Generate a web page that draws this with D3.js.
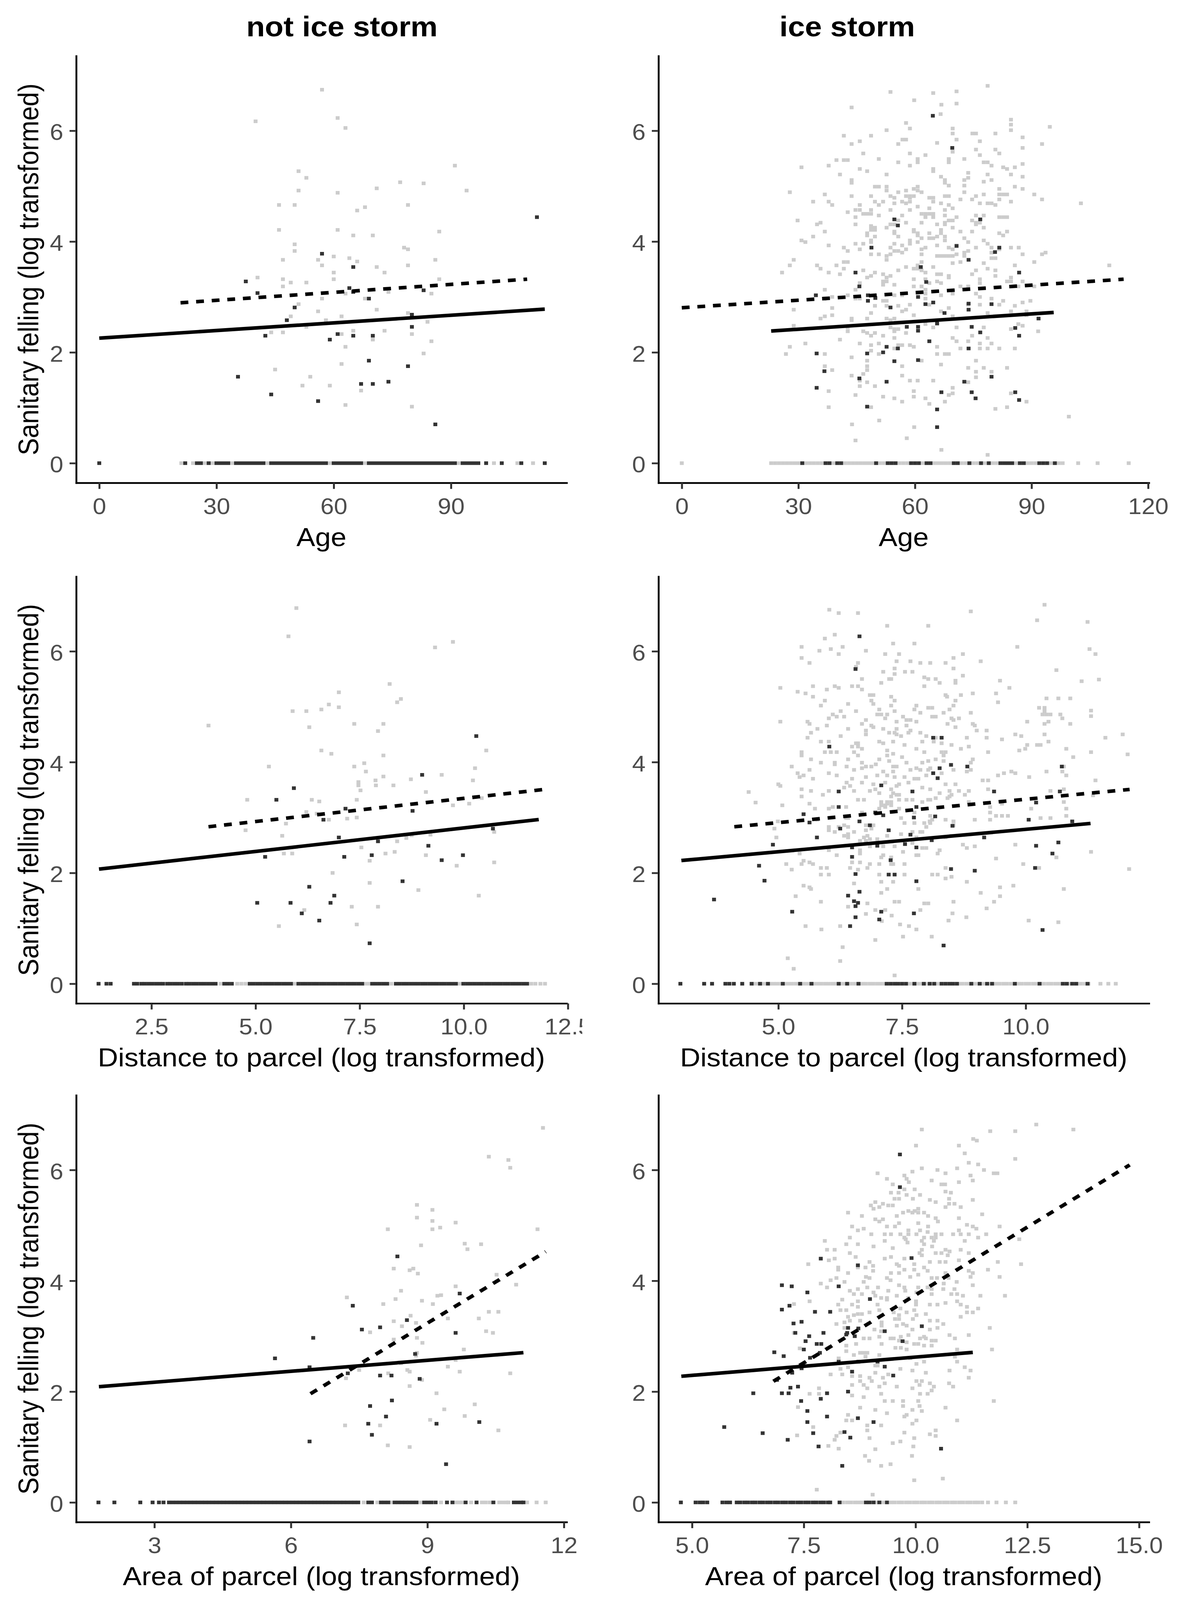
<!DOCTYPE html>
<html>
<head>
<meta charset="utf-8">
<script src="https://cdn.jsdelivr.net/npm/d3@7"></script>
<style>
  html, body { margin: 0; padding: 0; background: #fff; overflow: hidden; }
  svg { display: block; }
</style>
</head>
<body>
<script>
// column titles and axis titles
var colTitles = ['not ice storm', 'ice storm'];
var xTitles = ['Age', 'Distance to parcel (log transformed)', 'Area of parcel (log transformed)'];
var yTitle = 'Sanitary felling (log transformed)';

// tick values
var yTicks = [0, 2, 4, 6];
var ageTicksNo = [0, 30, 60, 90];
var ageTicksIce = [0, 30, 60, 90, 120];
var distTicksNo = [2.5, 5, 7.5, 10, 12.5];
var distTicksIce = [5, 7.5, 10];
var areaTicksNo = [3, 6, 9, 12];
var areaTicksIce = [5, 7.5, 10, 12.5, 15];

// ---- Age, not ice storm ----
var ageNoGrey = [[40,6.17],[57,6.74],[61,6.23],[63,6.05],[91,5.37],[51,5.27],[53,5.15],[77,5.07],[83,5.05],[94,4.92],[51,4.92],[61,4.88],[71,4.96],[46,4.66],[50,4.66],[68,4.62],[66,4.56],[79,4.66],[46,4.21],[61,4.21],[65,4.11],[70,4.11],[87,4.18],[50,3.95],[50,3.83],[78,3.89],[79,3.86],[47,3.67],[56,3.67],[60,3.73],[64,3.70],[66,3.64],[57,3.57],[71,3.54],[79,3.57],[86,3.67],[60,3.44],[73,3.44],[40.5,3.35],[47,3.32],[49,3.26],[53,3.26],[47,3.19],[60,3.32],[87,3.32],[74,3.09],[63,3.06],[85,3.06],[57,2.97],[68,2.97],[51,2.87],[56,2.74],[71,2.77],[79,2.71],[49,2.65],[62,2.65],[58,2.58],[84,2.55],[53,2.46],[44,2.36],[47,2.36],[62,2.33],[65,2.39],[73,2.39],[80,2.33],[70,2.23],[85,2.20],[63,2.10],[83,1.98],[62,1.79],[45,1.69],[54,1.56],[52,1.40],[59,1.40],[67,1.31],[63,1.05],[80,1.02]];
var ageNoDark = [[112,4.44],[57,3.78],[65,3.54],[37.5,3.28],[40.5,3.07],[64,3.16],[65,3.09],[83,3.12],[69,2.97],[50,2.81],[80,2.68],[48,2.58],[80,2.46],[61,2.33],[42.5,2.30],[65,2.30],[70,2.30],[59,2.23],[69,1.85],[79,1.75],[35.5,1.56],[67,1.43],[70,1.43],[74,1.47],[44,1.24],[56,1.12],[86,0.70]];
var ageNoZeroGrey = [21, 24, 27, 29, 34, 43, 59, 68, 92, 101, 107, 111];
var ageNoZeroDark = [0, 22, 25, 26, 28, 30, 31, 32, 33, 35, 36, 37, 38, 39, 40, 41, 42, 44, 45, 46, 47, 48, 49, 50, 51, 52, 53, 54, 55, 56, 57, 58, 60, 61, 62, 63, 64, 65, 66, 67, 69, 70, 71, 72, 73, 74, 75, 76, 77, 78, 79, 80, 81, 82, 83, 84, 85, 86, 87, 88, 89, 90, 91, 93, 94, 95, 96, 97, 99, 103, 108, 114];
var ageNoSolid = [[0, 2.256], [114, 2.78]];
var ageNoDashed = [[20.8, 2.895], [109.5, 3.32]];

// ---- Age, ice storm ----
var ageIceGrey = [[43.7,6.42],[66.6,6.30],[84.7,6.20],[57.7,6.14],[84.7,6.11],[94.7,6.07],[58.7,6.04],[69.7,6.04],[52.7,6.01],[84.7,6.01],[69.7,5.95],[74.8,5.95],[75.7,5.95],[80.7,5.95],[41.7,5.91],[48.7,5.91],[87.7,5.88],[56.8,5.84],[57.7,5.84],[70.7,5.84],[45.8,5.81],[76.7,5.81],[65.7,5.78],[43.7,5.76],[55.7,5.76],[92.7,5.76],[87.7,5.69],[75.7,5.66],[80.7,5.66],[69.7,5.62],[46.7,5.59],[58.7,5.59],[81.7,5.59],[62.7,5.56],[76.7,5.56],[50.7,5.49],[60.7,5.49],[68.7,5.49],[72.7,5.49],[39.8,5.47],[41.7,5.47],[42.7,5.47],[55.7,5.43],[60.7,5.43],[68.7,5.43],[77.7,5.43],[78.7,5.43],[87.7,5.40],[37.8,5.37],[58.7,5.37],[79.7,5.37],[30.8,5.34],[82.7,5.34],[85.7,5.34],[45.8,5.31],[64.7,5.31],[83.7,5.31],[47.7,5.27],[64.7,5.27],[73.7,5.24],[40.7,5.21],[52.7,5.21],[78.7,5.21],[84.7,5.21],[66.7,5.17],[87.7,5.17],[73.7,5.15],[43.7,5.11],[67.7,5.11],[72.7,5.11],[79.7,5.11],[77.7,5.08],[43.7,5.06],[67.7,5.06],[68.7,5.01],[72.7,5.01],[49.7,4.99],[50.7,4.99],[52.7,4.99],[60.7,4.99],[85.7,4.99],[59.7,4.95],[81.7,4.95],[87.7,4.95],[52.7,4.92],[57.7,4.92],[60.7,4.92],[27.8,4.89],[55.7,4.89],[61.7,4.89],[72.7,4.89],[36.8,4.85],[77.7,4.85],[81.7,4.85],[82.7,4.85],[83.7,4.85],[90.7,4.85],
  [43.7,4.82],[48.7,4.82],[53.7,4.82],[57.7,4.82],[58.7,4.82],[59.7,4.82],[67.7,4.82],[68.7,4.82],[75.7,4.82],[54.7,4.79],[58.7,4.79],[63.7,4.79],[64.7,4.79],[71.7,4.76],[74.7,4.76],[81.7,4.76],[92.7,4.76],[33.8,4.72],[37.8,4.72],[49.7,4.72],[51.8,4.72],[56.7,4.72],[58.7,4.72],[64.7,4.72],[84.7,4.72],[54.7,4.69],[57.7,4.69],[66.7,4.69],[76.7,4.69],[78.7,4.69],[79.7,4.69],[102.7,4.69],[38.7,4.66],[45.8,4.66],[50.7,4.66],[68.7,4.66],[80.7,4.66],[60.7,4.63],[63.7,4.60],[69.7,4.60],[44.7,4.57],[45.8,4.57],[48.7,4.57],[53.7,4.57],[58.7,4.57],[67.7,4.57],[42.7,4.53],[46.7,4.50],[47.7,4.50],[48.7,4.50],[61.7,4.50],[62.7,4.50],[63.7,4.50],[64.7,4.50],[50.7,4.47],[56.7,4.47],[67.7,4.47],[75.7,4.47],[77.7,4.47],[44.7,4.44],[62.7,4.44],[64.7,4.44],[70.7,4.44],[81.7,4.44],[82.7,4.44],[83.7,4.44],
  [29.8,4.38],[55.7,4.38],[68.7,4.38],[69.7,4.38],[74.7,4.38],[35.7,4.34],[57.7,4.34],[61.7,4.34],[67.7,4.34],[75.7,4.34],[76.7,4.34],[34.8,4.31],[44.7,4.31],[53.7,4.31],[54.7,4.31],[65.7,4.31],[67.7,4.31],[75.7,4.31],[48.7,4.28],[48.7,4.25],[49.7,4.25],[52.7,4.25],[69.7,4.25],[77.7,4.25],[48.7,4.21],[49.7,4.21],[59.7,4.21],[66.7,4.21],[36.8,4.18],[54.7,4.18],[59.7,4.18],[71.7,4.18],[74.7,4.18],[83.7,4.18],[47.7,4.15],[54.7,4.15],[60.7,4.15],[63.7,4.15],[66.7,4.15],[81.7,4.15],[47.7,4.11],[60.7,4.11],[82.7,4.11],[33.8,4.09],[49.7,4.09],[55.7,4.09],[65.7,4.09],[67.7,4.09],[61.7,4.06],[63.7,4.06],[64.7,4.06],[72.7,4.06],[30.8,4.02],[48.7,4.02],[58.7,4.02],[67.7,4.02],[77.7,4.02],[31.8,3.99],[48.7,3.99],[60.7,3.99],[73.7,3.99],
  [44.7,3.96],[46.7,3.96],[54.7,3.96],[58.7,3.96],[78.7,3.96],[37.8,3.93],[56.7,3.93],[65.7,3.93],[70.7,3.93],[41.7,3.89],[53.7,3.89],[62.7,3.89],[68.7,3.89],[75.7,3.89],[79.7,3.89],[84.7,3.89],[86.7,3.89],[45.8,3.86],[57.7,3.86],[61.7,3.86],[69.7,3.86],[81.7,3.86],[42.7,3.83],[54.7,3.83],[55.7,3.83],[73.7,3.83],[56.7,3.80],[72.7,3.80],[79.7,3.80],[93.6,3.80],[48.7,3.77],[50.7,3.77],[53.7,3.77],[61.7,3.77],[70.7,3.77],[87.7,3.77],[92.7,3.77],[52.7,3.74],[65.7,3.74],[66.7,3.74],[67.7,3.74],[68.7,3.74],[69.7,3.74],[72.7,3.74],[79.7,3.70],[80.7,3.70],[28.8,3.67],[52.7,3.67],[41.7,3.63],[42.7,3.63],[61.7,3.63],[71.7,3.63],[90.7,3.63],[69.7,3.61],[77.7,3.61],[27.8,3.57],[34.8,3.57],[39.8,3.57],[60.7,3.57],[85.7,3.57],[57.7,3.54],[64.7,3.54],[35.7,3.51],[41.7,3.51],[59.7,3.51],[60.7,3.51],[78.7,3.51],[46.7,3.48],[55.7,3.48],[61.7,3.48],[75.7,3.48],[80.7,3.48],
  [25.8,3.44],[37.8,3.44],[49.7,3.44],[62.7,3.44],[40.7,3.41],[51.8,3.41],[65.7,3.41],[66.7,3.41],[74.7,3.41],[48.7,3.38],[53.7,3.38],[68.7,3.38],[80.7,3.38],[47.7,3.35],[52.7,3.35],[68.7,3.35],[84.7,3.35],[59.7,3.32],[62.7,3.32],[76.7,3.32],[51.8,3.28],[52.7,3.28],[65.7,3.28],[83.7,3.28],[84.7,3.28],[87.7,3.28],[45.8,3.25],[63.7,3.25],[66.7,3.25],[76.7,3.25],[51.8,3.22],[54.7,3.22],[59.7,3.19],[61.7,3.19],[71.7,3.19],[73.7,3.19],[86.6,3.19],[90.7,3.19],[36.8,3.13],[44.7,3.13],[62.7,3.13],[62.7,3.06],[69.7,3.06],[75.7,3.06],[42.7,3.03],[54.7,3.03],[56.7,3.03],[66.7,3.03],[38.7,3.0],[76.7,3.0],[44.7,2.97],[45.8,2.97],[62.7,2.97],[79.7,2.97],[51.8,2.93],[52.7,2.93],[82.7,2.93],[89.7,2.93],[87.7,2.90],
  [58.7,2.86],[63.7,2.86],[73.7,2.86],[76.7,2.86],[81.7,2.86],[49.7,2.84],[52.7,2.84],[55.7,2.84],[85.7,2.84],[38.7,2.80],[68.7,2.80],[28.8,2.77],[57.7,2.77],[56.7,2.74],[66.7,2.74],[84.7,2.74],[88.7,2.74],[48.7,2.71],[78.7,2.71],[38.7,2.67],[59.7,2.67],[88.7,2.67],[36.8,2.65],[69.7,2.65],[35.7,2.61],[43.7,2.61],[47.7,2.61],[52.7,2.61],[54.7,2.61],[43.7,2.58],[53.7,2.58],[62.7,2.51],[86.6,2.51],[28.8,2.48],[87.7,2.48],[42.7,2.45],[53.7,2.45],[64.7,2.45],[70.7,2.45],[77.7,2.45],[54.7,2.42],[55.7,2.42],[84.7,2.42],[42.7,2.38],[46.7,2.38],[54.7,2.38],[91.7,2.38],[47.7,2.35],[49.7,2.35],[57.7,2.35],[48.7,2.30],[51.8,2.30],[74.7,2.30],[54.7,2.26],[69.7,2.26],[78.7,2.26],[40.7,2.23],[70.7,2.20],[73.7,2.20],[31.8,2.16],[45.8,2.16],[50.7,2.16],[76.7,2.16],[79.7,2.16],[48.7,2.13],[55.7,2.13],[56.7,2.13],[58.7,2.13],[27.8,2.10],[59.7,2.10],[65.7,2.10],[54.7,2.07],[71.7,2.07],[76.7,2.07],[78.7,2.07],[81.7,2.07],[85.7,2.07],[48.7,2.03],
  [26.8,1.97],[36.8,1.97],[50.7,1.97],[65.7,1.97],[67.7,1.97],[68.7,1.97],[43.7,1.91],[47.7,1.85],[61.7,1.85],[75.7,1.85],[66.7,1.78],[36.8,1.75],[47.7,1.75],[56.7,1.75],[73.7,1.72],[77.7,1.72],[83.7,1.72],[38.7,1.68],[47.7,1.68],[75.7,1.65],[79.7,1.65],[46.7,1.61],[43.7,1.58],[56.7,1.58],[75.7,1.55],[45.8,1.49],[58.7,1.49],[60.7,1.49],[64.7,1.49],[47.7,1.46],[73.7,1.46],[45.8,1.39],[49.7,1.39],[69.7,1.36],[37.8,1.30],[59.7,1.30],[69.7,1.26],[84.7,1.26],[44.7,1.23],[68.7,1.23],[51.8,1.20],[59.7,1.20],[54.7,1.17],[62.7,1.17],[56.7,1.11],[67.7,1.11],[88.7,1.11],[63.7,1.07],[37.8,1.01],[48.7,1.01],[83.7,1.01],[80.7,0.98],
  [78.7,6.81],[53.7,6.70],[64.7,6.68],[70.7,6.71],[70.7,6.49],[59.8,6.55],[66.8,6.47],[50.8,0.77],[99.6,0.84],[43.8,0.70],[59.8,0.65],[44.7,0.41],[57.9,0.45],[66.8,0.24],[78.7,0.15],[110,3.57]];
var ageIceDark = [[64.6,6.27],[69.6,5.69],[54.7,4.40],[55.6,4.29],[76.8,4.40],[48.8,3.89],[70.7,3.92],[80.6,3.81],[81.7,3.89],[61.5,3.54],[73.8,3.67],[44.7,3.44],[86.8,3.44],[45.7,3.19],[62.9,3.27],[34.5,3.03],[36.7,2.97],[47.9,3.03],[47.9,2.93],[49.8,2.98],[60.8,3.0],[73.8,2.88],[73.8,2.77],[79.7,2.87],[62.7,2.87],[64.7,2.90],[53.7,2.81],[67.6,2.71],[91.8,2.61],[57.9,2.46],[60.8,2.46],[60.8,2.39],[65.7,2.52],[74.6,2.46],[76.8,2.36],[85.8,2.44],[86.8,2.30],[63.7,2.20],[52.7,2.10],[51.8,2.0],[55.6,2.07],[73.8,2.07],[34.7,1.98],[47.7,1.98],[60.8,1.86],[54.7,1.84],[36.7,1.66],[79.7,1.56],[45.7,1.53],[52.7,1.47],[72.7,1.47],[34.7,1.36],[66.8,1.28],[74.6,1.28],[85.8,1.28],[75.6,1.17],[86.8,1.14],[47.7,1.02],[65.7,0.97],[65.7,0.65]];
var ageIceZeroGrey = [0, 23, 24, 25, 26, 27, 28, 29, 30, 31, 32, 33, 34, 35, 36, 37, 38, 39, 40, 41, 42, 43, 44, 45, 46, 47, 48, 49, 50, 51, 52, 53, 54, 55, 56, 57, 58, 59, 60, 61, 62, 63, 64, 65, 66, 67, 68, 69, 70, 71, 72, 73, 74, 75, 76, 77, 78, 79, 80, 81, 82, 83, 84, 85, 86, 87, 88, 89, 90, 91, 92, 93, 94, 95, 96, 97, 98, 102, 107, 115];
var ageIceZeroDark = [31, 37, 38, 40, 41, 50, 53, 54, 55, 59, 60, 61, 63, 64, 70, 71, 74, 77, 79, 82, 83, 84, 85, 87, 88, 92, 93, 94, 96];
var ageIceSolid = [[23, 2.385], [95.7, 2.72]];
var ageIceDashed = [[0, 2.805], [113.7, 3.32]];

// ---- Distance, not ice storm ----
var distNoGrey = [[5.98,6.78],[5.79,6.27],[9.74,6.17],[9.31,6.07],[3.87,4.66],[7.0,5.26],[8.22,5.41],[8.49,5.14],[8.40,5.08],[5.89,4.92],[6.22,4.92],[6.58,4.95],[6.76,5.04],[7.0,4.99],[6.29,4.63],[7.37,4.69],[8.07,4.69],[7.94,4.56],[6.58,4.21],[6.82,4.15],[8.07,4.12],[10.54,4.21],[5.32,3.92],[7.37,3.92],[7.61,3.98],[7.65,3.83],[7.47,3.64],[7.47,3.58],[7.52,3.49],[7.88,3.67],[7.89,3.58],[8.07,3.74],[8.31,3.58],[8.73,3.69],[9.47,3.77],[10.27,3.89],[10.22,3.67],[4.80,3.32],[6.35,3.32],[6.53,3.29],[7.43,3.32],[9.09,3.46],[9.74,3.22],[10.13,3.25],[10.43,3.35],[6.22,3.10],[6.47,3.07],[7.43,3.0],[6.76,2.96],[4.76,2.77],[5.73,2.89],[10.73,2.74],[5.64,2.67],[9.20,2.69],[8.62,2.63],[8.40,2.57],[7.54,2.46],[5.68,2.35],[5.88,2.35],[8.12,2.35],[8.34,2.38],[9.09,2.32],[7.74,2.22],[9.83,2.13],[10.73,2.19],[6.85,2.0],[7.74,1.82],[8.91,1.69],[10.36,1.59],[6.17,1.33],[7.31,1.39],[7.94,1.39],[5.56,1.04],[7.43,1.07],[8.75,2.68],[7.2,2.98]];
var distNoDark = [[10.30,4.47],[9.0,3.77],[5.92,3.53],[5.50,3.32],[7.16,3.16],[8.77,3.12],[6.63,2.96],[7.0,2.64],[7.94,2.57],[9.15,2.49],[5.23,2.29],[7.13,2.29],[7.79,2.32],[9.47,2.23],[9.98,2.32],[8.53,1.85],[6.29,1.75],[6.89,1.59],[5.04,1.46],[5.84,1.46],[6.80,1.46],[6.11,1.27],[6.53,1.14],[7.74,0.73],[10.70,2.80]];
var distNoZeroGrey = [4.16, 4.56, 4.66, 4.76, 5.94, 7.65, 7.71, 8.26, 9.9, 11.62, 11.72, 11.84, 11.95];
var distNoZeroDark = [1.23, 1.42, 1.52, 2.08, 2.16, 2.26, 2.34, 2.43, 2.52, 2.61, 2.7, 2.78, 2.88, 2.96, 3.05, 3.14, 3.23, 3.33, 3.41, 3.5, 3.59, 3.68, 3.77, 3.86, 3.95, 4.04, 4.25, 4.34, 4.43, 4.86, 4.95, 5.04, 5.13, 5.22, 5.31, 5.4, 5.49, 5.58, 5.67, 5.76, 5.85, 6.03, 6.12, 6.21, 6.3, 6.39, 6.48, 6.57, 6.66, 6.75, 6.84, 6.93, 7.02, 7.11, 7.2, 7.29, 7.38, 7.47, 7.56, 7.8, 7.89, 7.98, 8.07, 8.16, 8.37, 8.46, 8.55, 8.64, 8.73, 8.82, 8.91, 9.0, 9.09, 9.18, 9.27, 9.36, 9.45, 9.54, 9.63, 9.72, 9.81, 9.99, 10.08, 10.17, 10.26, 10.35, 10.44, 10.53, 10.62, 10.71, 10.8, 10.89, 10.98, 11.07, 11.16, 11.25, 11.34, 11.43, 11.52];
var distNoSolid = [[1.24, 2.069], [11.8, 2.964]];
var distNoDashed = [[3.87, 2.833], [11.93, 3.507]];

// ---- Distance, ice storm ----
var distIceGrey = [[7.20,6.46],[8.03,6.46],[6.14,6.30],[5.94,6.23],[7.32,6.14],[7.75,6.14],[5.47,6.08],[6.30,6.08],[9.83,6.08],[6.06,6.04],[5.83,6.01],[6.77,6.01],[6.22,5.95],[7.16,5.95],[7.44,5.95],[8.73,5.95],[5.47,5.88],[8.54,5.88],[7.39,5.82],[7.67,5.82],[9.09,5.82],[5.63,5.79],[6.61,5.79],[7.87,5.79],[8.07,5.79],[8.38,5.79],[6.57,5.72],[7.35,5.69],[8.54,5.69],[10.62,5.66],[7.12,5.63],[7.56,5.63],[7.71,5.63],[7.35,5.59],[8.73,5.56],[7.95,5.53],[6.69,5.50],[7.24,5.50],[7.28,5.50],[8.03,5.50],[8.18,5.50],[8.58,5.47],[9.48,5.47],[7.08,5.43],[8.26,5.43],[8.58,5.43],[5.70,5.37],[6.14,5.37],[6.49,5.37],[6.61,5.37],[7.95,5.37],[5.04,5.34],[6.22,5.34],[9.67,5.34],[5.98,5.31],[6.69,5.31],[5.39,5.27],[5.55,5.24],[8.93,5.24],[9.40,5.24],[6.85,5.21],[6.92,5.21],[8.38,5.21],[8.69,5.21],[5.70,5.18],[7.28,5.18],[8.41,5.18],[10.42,5.15],[10.66,5.15],[10.90,5.15],[5.94,5.11],[6.88,5.11],[7.35,5.11],[8.58,5.11],[9.44,5.08],[6.41,5.05],[6.92,5.05],[5.86,5.02],[7.28,5.02],[7.79,5.02],[8.54,5.02],
  [8.03,4.98],[8.11,4.98],[10.27,4.98],[10.38,4.98],[7.04,4.95],[7.75,4.95],[8.46,4.95],[6.26,4.92],[6.57,4.92],[7.35,4.92],[10.38,4.92],[7.87,4.89],[8.34,4.89],[8.89,4.89],[6.10,4.86],[7.00,4.86],[7.08,4.86],[7.20,4.86],[10.34,4.86],[10.42,4.86],[10.50,4.86],[10.70,4.86],[6.18,4.82],[6.33,4.82],[7.52,4.82],[8.11,4.82],[8.18,4.82],[6.02,4.79],[7.16,4.79],[8.50,4.79],[8.65,4.79],[10.74,4.79],[6.77,4.76],[7.59,4.76],[7.67,4.76],[8.54,4.76],[5.04,4.73],[5.59,4.73],[7.39,4.73],[7.79,4.73],[10.03,4.73],[10.46,4.73],[5.63,4.69],[6.69,4.69],[8.42,4.69],[8.93,4.69],[10.38,4.69],[10.90,4.69],[5.98,4.66],[6.88,4.66],[7.59,4.66],[8.97,4.66],[6.92,4.63],[8.58,4.63],[5.79,4.60],[6.41,4.60],[7.12,4.60],[7.39,4.60],[6.77,4.57],[7.67,4.57],[9.01,4.57],[9.21,4.57],[5.66,4.53],[7.24,4.53],[7.35,4.53],[7.63,4.53],[7.87,4.53],[6.77,4.50],[7.39,4.50],[9.79,4.50],[10.38,4.50],[6.26,4.47],[7.48,4.47],[7.99,4.47],[9.91,4.47],[5.59,4.44],[8.18,4.44],[8.81,4.44],[9.21,4.44],[9.52,4.41],
  [5.86,4.37],[6.02,4.37],[7.04,4.37],[7.32,4.37],[7.91,4.37],[8.14,4.37],[10.46,4.37],[6.57,4.34],[6.61,4.34],[7.12,4.34],[8.30,4.34],[7.55,4.31],[8.50,4.31],[10.03,4.31],[10.23,4.31],[10.30,4.31],[6.49,4.28],[6.61,4.28],[8.85,4.28],[6.69,4.24],[7.79,4.24],[8.69,4.24],[9.99,4.24],[10.82,4.24],[7.20,4.21],[9.87,4.21],[5.47,4.18],[5.94,4.18],[6.06,4.18],[6.18,4.18],[6.53,4.18],[7.95,4.18],[8.30,4.18],[8.38,4.18],[9.24,4.18],[7.32,4.15],[5.47,4.12],[6.61,4.12],[7.20,4.12],[8.34,4.12],[7.50,4.09],[10.96,4.09],[5.66,4.05],[6.41,4.05],[7.04,4.05],[8.18,4.05],[8.93,4.05],[7.24,4.02],[8.03,4.02],[8.34,4.02],[5.86,3.99],[6.14,3.99],[6.69,3.99],[7.59,3.99],[7.91,3.99],[8.89,3.99],[6.14,3.96],[6.97,3.96],[5.27,3.92],[6.38,3.92],[6.77,3.92],[6.88,3.92],[7.32,3.92],[7.39,3.92],[10.77,3.92],[6.69,3.89],[7.79,3.89],[8.07,3.89],[5.63,3.86],[6.53,3.86],[7.67,3.86],[7.87,3.86],[8.03,3.86],[8.54,3.86],[8.89,3.86],[7.12,3.83],[7.32,3.83],[8.81,3.83],[9.71,3.83],[10.42,3.83],[10.74,3.83],
  [5.39,3.80],[6.02,3.80],[8.30,3.80],[9.56,3.80],[9.79,3.80],[5.51,3.76],[6.18,3.76],[7.00,3.76],[7.20,3.76],[7.99,3.76],[9.44,3.76],[10.82,3.76],[5.43,3.73],[6.77,3.73],[7.35,3.73],[7.55,3.73],[10.07,3.73],[5.70,3.70],[6.49,3.70],[7.75,3.70],[7.83,3.70],[9.13,3.67],[9.24,3.67],[6.38,3.63],[6.69,3.63],[7.16,3.63],[7.63,3.63],[5.00,3.60],[6.92,3.60],[7.44,3.60],[8.38,3.60],[8.58,3.60],[5.04,3.57],[6.45,3.57],[7.39,3.57],[6.33,3.54],[7.91,3.54],[5.47,3.51],[6.96,3.51],[7.28,3.51],[8.07,3.51],[9.24,3.51],[10.77,3.51],[5.66,3.48],[6.02,3.48],[6.53,3.48],[6.85,3.48],[8.46,3.48],[8.65,3.48],[8.85,3.48],[10.50,3.48],[7.04,3.44],[7.32,3.44],[8.26,3.44],[5.90,3.41],[7.39,3.41],[7.44,3.41],[8.50,3.41],[8.77,3.41],[5.47,3.38],[7.28,3.38],[8.46,3.38],[8.18,3.35],[8.42,3.35],[6.61,3.32],[6.73,3.32],[7.44,3.32],[7.59,3.32],[7.71,3.32],[8.03,3.32],[8.07,3.32],[7.08,3.28],[7.20,3.28],[7.28,3.28],[7.91,3.28],[10.77,3.28],[8.85,3.28],[5.63,3.25],[7.20,3.25],[9.52,3.25],[5.08,3.22],[7.08,3.22],[7.16,3.22],[7.28,3.22],[6.10,3.19],[6.37,3.19],[7.16,3.19],[9.28,3.19],[5.74,3.16],[6.02,3.16],[7.04,3.16],[7.44,3.16],[10.11,3.16],[10.82,3.16],
  [6.69,3.09],[6.96,3.09],[7.75,3.09],[9.28,3.09],[9.40,3.03],[9.52,3.03],[9.64,3.03],[10.82,3.03],[8.07,3.03],[7.48,2.99],[10.50,2.99],[10.30,2.99],[6.37,2.99],[6.41,2.99],[5.79,2.96],[8.11,2.96],[8.38,2.96],[8.97,2.96],[9.28,2.96],[4.99,2.93],[8.06,2.93],[8.54,2.93],[7.55,2.90],[7.75,2.90],[7.95,2.90],[8.07,2.90],[6.33,2.86],[6.77,2.86],[6.92,2.86],[8.54,2.86],[6.02,2.83],[6.22,2.83],[6.41,2.83],[7.99,2.83],[4.92,2.80],[6.88,2.80],[6.02,2.77],[6.77,2.77],[6.14,2.74],[6.53,2.74],[7.71,2.74],[7.87,2.74],[7.91,2.74],[6.41,2.70],[7.48,2.70],[6.33,2.67],[6.80,2.67],[7.20,2.67],[8.50,2.67],[4.96,2.64],[6.41,2.64],[6.73,2.64],[7.79,2.64],[8.38,2.64],[6.85,2.61],[7.00,2.61],[6.65,2.58],[6.77,2.58],[7.71,2.54],[8.73,2.51],[9.79,2.51],[6.85,2.48],[7.12,2.48],[7.35,2.48],[8.97,2.48],[7.91,2.45],[7.99,2.45],[8.81,2.45],[6.02,2.41],[6.65,2.41],[8.26,2.41],[7.52,2.38],[5.43,2.35],[6.65,2.35],[8.22,2.35],[6.18,2.32],[7.12,2.32],[7.79,2.32],[7.83,2.32],[7.08,2.28],[7.28,2.28],[10.62,2.28],[9.40,2.26],
  [5.51,2.22],[5.63,2.19],[6.49,2.19],[6.65,2.19],[5.16,2.16],[5.47,2.16],[5.70,2.16],[6.85,2.16],[7.04,2.16],[7.28,2.16],[7.32,2.16],[7.55,2.16],[9.95,2.16],[5.86,2.09],[5.98,2.09],[6.45,2.09],[6.80,2.09],[8.38,2.09],[10.27,2.09],[5.27,2.06],[6.61,2.06],[5.86,1.97],[6.02,1.97],[7.04,1.97],[7.55,1.97],[8.22,1.97],[8.11,1.97],[8.50,1.93],[8.38,1.90],[7.08,1.84],[7.32,1.84],[8.81,1.84],[6.53,1.81],[5.51,1.77],[9.75,1.77],[5.63,1.74],[9.48,1.74],[5.66,1.71],[7.20,1.71],[7.83,1.71],[10.77,1.71],[7.08,1.64],[9.09,1.64],[5.35,1.58],[9.48,1.58],[5.86,1.48],[7.35,1.48],[7.44,1.48],[8.54,1.48],[9.36,1.48],[6.80,1.45],[7.95,1.45],[8.03,1.45],[6.41,1.39],[9.21,1.36],[6.96,1.33],[7.16,1.33],[7.87,1.33],
  [6.03,6.75],[6.22,6.69],[6.61,6.69],[10.38,6.84],[8.89,6.72],[10.23,6.56],[11.25,6.53],[11.29,6.04],[11.41,5.95],[11.13,5.46],[11.48,5.49],[11.32,4.93],[11.32,4.83],[11.61,4.44],[11.96,4.50],[11.32,4.18],[12.06,4.14],[11.41,3.67],[11.36,3.40],[11.32,2.38],[12.09,2.07],[4.40,3.46],[4.54,3.27],[6.77,1.26],[7.29,1.23],[8.52,1.27],[8.80,1.20],[5.55,1.04],[5.87,0.98],[6.25,1.04],[7.09,1.13],[7.46,1.07],[7.64,1.04],[7.79,0.98],[8.44,1.14],[10.06,1.14],[10.66,1.11],[6.96,0.79],[7.52,0.85],[8.10,0.85],[6.30,0.66],[5.19,0.46],[6.25,0.41],[5.31,0.27],[7.35,0.15]];
var distIceDark = [[6.64,6.27],[6.56,5.68],[6.03,4.28],[8.13,4.44],[8.30,4.44],[8.13,3.80],[8.26,3.89],[8.49,3.95],[8.82,3.92],[8.22,3.71],[10.73,3.92],[7.08,3.58],[6.22,3.47],[7.71,3.47],[9.36,3.47],[10.69,3.47],[6.22,3.19],[7.79,3.19],[10.21,3.27],[5.63,2.91],[6.64,2.93],[7.12,3.04],[7.74,3.0],[8.17,3.02],[10.06,2.96],[10.94,2.93],[6.85,2.86],[7.23,2.77],[6.25,2.80],[5.78,2.64],[7.67,2.69],[9.16,2.64],[4.89,2.51],[6.49,2.46],[7.0,2.49],[7.56,2.52],[7.79,2.46],[8.10,2.59],[8.52,2.85],[10.66,2.55],[10.21,2.49],[10.54,2.35],[6.49,2.29],[7.27,2.23],[4.61,2.13],[10.19,2.09],[6.56,1.98],[7.23,1.97],[7.35,1.97],[8.49,2.07],[8.97,2.04],[4.72,1.86],[7.79,1.85],[6.64,1.66],[6.41,1.59],[6.53,1.49],[6.56,1.40],[6.61,1.46],[3.70,1.52],[5.28,1.30],[7.08,1.30],[7.74,1.27],[6.56,1.20],[7.04,1.16],[6.45,1.04],[10.34,0.97],[8.34,0.69],[5.51,3.06],[6.96,3.09]];
var distIceZeroGrey = [4.52, 4.6, 4.67, 4.75, 4.83, 4.9, 4.97, 5.05, 5.12, 5.2, 5.27, 5.35, 5.42, 5.5, 5.57, 5.65, 5.72, 5.8, 5.87, 5.95, 6.02, 6.1, 6.17, 6.25, 6.32, 6.4, 6.47, 6.55, 6.62, 6.7, 6.77, 6.85, 6.92, 7.0, 7.07, 7.15, 7.22, 7.3, 7.37, 7.45, 7.52, 7.6, 7.67, 7.75, 7.82, 7.9, 7.97, 8.05, 8.12, 8.2, 8.27, 8.35, 8.42, 8.5, 8.57, 8.65, 8.72, 8.8, 8.87, 8.95, 9.02, 9.1, 9.17, 9.25, 9.32, 9.4, 9.47, 9.55, 9.62, 9.7, 9.77, 9.85, 9.92, 10.0, 10.07, 10.15, 10.22, 10.3, 10.37, 10.45, 10.52, 10.6, 10.67, 10.75, 10.82, 10.9, 10.97, 11.05, 11.12, 11.2, 11.27, 11.51, 11.67, 11.82];
var distIceZeroDark = [3.02, 3.50, 3.66, 3.93, 4.01, 4.10, 4.27, 4.46, 4.63, 4.79, 5.09, 5.44, 5.67, 6.22, 6.39, 6.62, 7.19, 7.27, 7.35, 7.42, 7.5, 7.58, 7.75, 7.94, 8.06, 8.15, 8.30, 8.38, 8.46, 8.53, 8.61, 8.90, 9.07, 9.22, 9.32, 9.78, 10.28, 10.75, 10.83, 10.94, 11.02, 11.25];
var distIceSolid = [[3.04, 2.224], [11.31, 2.893]];
var distIceDashed = [[4.11, 2.833], [12.1, 3.507]];

// ---- Area, not ice storm ----
var areaNoGrey = [[11.54,6.76],[10.35,6.24],[10.78,6.18],[10.82,6.04],[8.77,5.37],[8.77,5.14],[9.11,5.28],[9.11,5.08],[9.62,5.05],[8.13,4.93],[9.11,4.93],[9.28,4.96],[11.42,4.93],[8.86,4.64],[9.82,4.67],[9.88,4.57],[10.18,4.66],[8.26,4.22],[8.61,4.19],[8.69,4.22],[8.79,4.13],[10.52,4.11],[10.95,3.93],[8.42,3.82],[9.62,3.90],[7.23,3.70],[8.30,3.67],[9.22,3.73],[9.30,3.74],[8.88,3.64],[8.03,3.58],[9.12,3.58],[10.35,3.44],[10.56,3.44],[9.45,3.32],[10.13,3.32],[8.26,3.27],[8.63,3.37],[8.75,3.24],[8.44,3.18],[7.74,3.07],[10.29,3.09],[10.44,3.06],[8.26,2.94],[8.77,2.97],[8.89,2.88],[9.80,2.76],[8.77,2.70],[8.75,2.65],[9.62,2.57],[8.42,2.51],[7.50,2.39],[8.56,2.39],[8.61,2.36],[9.45,2.45],[9.71,2.36],[10.82,2.33],[7.21,2.24],[8.14,2.33],[8.88,2.21],[8.61,2.10],[9.20,1.97],[9.37,1.68],[10.04,1.77],[9.82,1.56],[9.06,1.49],[7.19,1.39],[7.96,1.39],[10.56,1.30],[8.13,1.03],[8.61,1.0]];
var areaNoDark = [[8.34,4.44],[7.36,3.55],[9.71,3.77],[7.56,3.12],[7.96,3.16],[8.55,3.29],[9.62,3.06],[6.49,2.97],[8.73,2.68],[5.65,2.60],[6.41,2.44],[7.96,2.29],[8.21,2.29],[8.83,2.23],[7.25,2.33],[8.22,1.84],[7.74,1.74],[8.09,1.55],[7.70,1.42],[9.20,1.42],[10.14,1.45],[7.78,1.22],[6.41,1.10],[9.41,0.69]];
var areaNoZeroGrey = [7.6, 7.9, 8.2, 8.85, 9.3, 9.63, 9.7, 9.76, 9.96, 10.2, 10.28, 10.37, 10.58, 10.66, 10.74, 10.78, 11.19, 11.4, 11.6];
var areaNoZeroDark = [1.77, 2.12, 2.69, 2.96, 3.1, 3.2, 3.32, 3.4, 3.48, 3.56, 3.64, 3.72, 3.8, 3.88, 3.96, 4.04, 4.12, 4.2, 4.28, 4.36, 4.44, 4.52, 4.6, 4.68, 4.76, 4.84, 4.92, 5.0, 5.08, 5.16, 5.24, 5.32, 5.4, 5.48, 5.56, 5.64, 5.72, 5.8, 5.88, 5.96, 6.04, 6.12, 6.2, 6.28, 6.36, 6.44, 6.52, 6.6, 6.68, 6.76, 6.84, 6.92, 7.0, 7.08, 7.16, 7.24, 7.32, 7.4, 7.48, 7.7, 7.78, 7.98, 8.06, 8.14, 8.28, 8.36, 8.44, 8.52, 8.6, 8.68, 8.76, 8.93, 9.01, 9.09, 9.18, 9.43, 9.55, 9.84, 10.08, 10.45, 10.9, 10.98, 11.06, 11.11];
var areaNoSolid = [[1.78, 2.089], [11.11, 2.703]];
var areaNoDashed = [[6.43, 1.961], [11.6, 4.525]];

// ---- Area, ice storm ----
var areaIceGrey = [[10.01,6.44],[10.97,6.44],[11.10,6.30],[12.23,6.20],[11.19,6.13],[11.40,6.10],[10.14,6.03],[10.93,6.03],[10.49,6.0],[11.53,6.0],[9.93,5.97],[9.15,5.94],[10.67,5.94],[11.75,5.94],[11.83,5.94],[9.75,5.90],[11.23,5.90],[9.36,5.84],[9.80,5.84],[10.36,5.81],[11.28,5.81],[9.85,5.78],[10.97,5.78],[9.49,5.74],[10.58,5.74],[10.66,5.74],[9.75,5.65],[9.98,5.65],[10.67,5.61],[9.45,5.59],[9.62,5.59],[10.79,5.59],[9.80,5.55],[10.10,5.55],[9.53,5.48],[9.63,5.48],[9.94,5.48],[10.75,5.48],[10.32,5.46],[11.28,5.46],[9.10,5.42],[10.45,5.42],[9.27,5.39],[10.75,5.39],[10.87,5.39],[9.0,5.36],[9.39,5.36],[9.49,5.36],[9.19,5.33],[10.67,5.33],[11.01,5.33],[9.06,5.30],[10.06,5.30],[9.84,5.26],[9.98,5.26],[8.49,5.23],[9.72,5.23],[9.93,5.23],[10.06,5.23],[10.19,5.23],[11.49,5.20],[8.80,5.17],[9.58,5.17],[10.28,5.17],[10.97,5.13],[10.45,5.13],[9.10,5.11],[9.27,5.11],[9.19,5.07],[10.50,5.07],[9.63,5.04],[10.06,5.04],[11.15,5.01],
  [8.58,4.98],[9.36,4.98],[9.54,4.98],[10.28,4.98],[11.28,4.98],[11.88,4.98],[8.84,4.94],[11.36,4.94],[8.71,4.91],[9.84,4.91],[10.10,4.91],[10.97,4.91],[10.27,4.88],[9.01,4.84],[9.31,4.84],[9.45,4.84],[9.66,4.84],[9.84,4.84],[10.02,4.84],[10.45,4.84],[10.58,4.84],[10.84,4.84],[11.01,4.84],[11.19,4.84],[11.58,4.84],[8.53,4.78],[9.75,4.78],[10.19,4.78],[10.36,4.78],[10.45,4.78],[11.40,4.78],[9.78,4.75],[12.32,4.75],[7.97,4.72],[9.31,4.72],[10.14,4.72],[10.41,4.72],[11.10,4.72],[9.82,4.69],[8.45,4.66],[8.71,4.66],[10.19,4.66],[9.06,4.62],[10.37,4.62],[9.49,4.59],[8.02,4.56],[8.19,4.56],[10.14,4.56],[10.67,4.56],[11.01,4.56],[10.76,4.53],[8.53,4.50],[10.09,4.50],[10.45,4.50],[10.58,4.50],[11.19,4.50],[10.72,4.46],[10.14,4.46],[8.66,4.43],[9.45,4.43],[8.19,4.40],[9.31,4.40],[9.75,4.40],[8.06,4.37],[10.97,4.37],[8.97,4.34],[10.32,4.34],[10.54,4.34],[10.67,4.34],[11.84,4.34],[7.60,4.30],[9.58,4.30],[9.97,4.30],[12.36,4.30],[9.05,4.27],[9.63,4.27],[8.88,4.24],[8.71,4.24],[8.27,4.24],[10.19,4.24],[8.27,4.20],[9.75,4.20],[9.97,4.20],[11.62,4.20],[9.05,4.18],[10.27,4.18],[11.19,4.18],[8.49,4.14],[9.45,4.14],[9.63,4.14],[10.67,4.14],[11.28,4.14],[10.06,4.11],[8.89,4.07],[9.88,4.07],[11.23,4.07],[11.88,4.07],[8.23,4.05],[8.97,4.05],[9.36,4.05],[10.36,4.05],[10.48,4.05],[10.74,4.05],[8.10,4.01],[9.44,4.01],
  [8.41,3.98],[8.84,3.98],[10.92,3.98],[7.88,3.95],[10.63,3.95],[9.63,3.92],[11.28,3.92],[8.02,3.88],[8.92,3.88],[9.16,3.88],[9.75,3.88],[10.06,3.88],[10.27,3.88],[8.71,3.85],[10.36,3.85],[10.62,3.85],[10.87,3.85],[8.53,3.82],[9.39,3.82],[9.77,3.82],[9.06,3.79],[10.02,3.79],[8.62,3.76],[8.80,3.76],[10.36,3.76],[10.80,3.76],[10.93,3.76],[9.10,3.73],[9.58,3.73],[11.06,3.73],[11.45,3.73],[12.0,3.73],[9.23,3.69],[9.36,3.69],[9.84,3.69],[8.36,3.66],[9.36,3.66],[7.63,3.63],[8.71,3.63],[10.01,3.63],[10.93,3.63],[10.67,3.60],[8.27,3.57],[8.58,3.57],[9.15,3.57],[10.01,3.57],[10.32,3.57],[10.49,3.57],[11.01,3.57],[8.71,3.53],[11.15,3.53],[9.66,3.50],[11.40,3.50],[8.32,3.47],[8.45,3.47],[9.19,3.47],[9.97,3.47],[8.97,3.43],[9.51,3.43],[9.80,3.43],[11.15,3.43],[11.28,3.43],[8.71,3.40],[8.80,3.40],[10.23,3.40],[8.62,3.38],[9.63,3.38],[10.02,3.38],[8.49,3.35],[11.01,3.35],[9.54,3.31],[9.63,3.31],[9.94,3.31],[8.53,3.28],[8.76,3.28],[10.32,3.28],[10.49,3.28],[8.41,3.25],[9.24,3.25],[8.23,3.22],[9.72,3.22],[10.62,3.22],[9.24,3.19],[9.58,3.19],[9.80,3.19],[8.41,3.15],[10.49,3.15],[11.66,3.15],[9.08,3.12],[9.93,3.12],[10.32,3.12],[9.23,3.09],
  [9.84,3.02],[10.76,3.02],[11.19,3.02],[9.19,2.99],[9.67,2.99],[10.19,2.99],[8.84,2.96],[8.97,2.96],[9.44,2.96],[9.51,2.96],[10.10,2.96],[10.23,2.96],[10.88,2.96],[9.63,2.92],[10.36,2.92],[10.45,2.92],[9.80,2.89],[8.67,2.86],[9.24,2.86],[9.97,2.86],[10.06,2.86],[8.45,2.83],[10.36,2.83],[10.19,2.83],[9.55,2.79],[9.67,2.79],[9.80,2.76],[10.93,2.76],[11.71,2.76],[8.45,2.73],[8.76,2.70],[8.84,2.70],[8.92,2.70],[8.62,2.66],[9.19,2.66],[8.88,2.63],[10.88,2.63],[8.28,2.60],[9.88,2.60],[10.93,2.54],[10.19,2.54],[10.02,2.50],[9.10,2.47],[9.15,2.47],[8.49,2.44],[11.10,2.44],[8.32,2.41],[9.66,2.41],[9.93,2.38],[11.23,2.38],[10.76,2.38],[9.10,2.34],[10.23,2.34],[8.10,2.31],[8.36,2.31],[9.39,2.31],[8.58,2.28],[8.76,2.28],[8.97,2.25],[9.27,2.25],[11.19,2.25],[8.76,2.19],[9.02,2.19],[10.02,2.19],[10.14,2.19],[9.31,2.15],[10.32,2.15],[10.75,2.15],[8.58,2.12],[8.84,2.12],[10.09,2.12],[9.19,2.09],[9.58,2.09],[10.41,2.09],[10.84,2.09],[7.84,2.06],[8.92,2.06],[9.93,2.06],[10.36,2.02],
  [7.63,1.96],[7.84,1.96],[9.23,1.96],[10.10,1.96],[10.27,1.96],[8.58,1.93],[8.84,1.90],[9.31,1.83],[9.49,1.83],[9.72,1.83],[10.06,1.83],[11.75,1.83],[10.09,1.74],[9.72,1.74],[8.76,1.71],[10.67,1.71],[9.10,1.67],[9.93,1.67],[10.14,1.65],[9.36,1.61],[8.49,1.58],[9.80,1.58],[9.75,1.55],[8.45,1.48],[8.58,1.48],[10.02,1.48],[10.93,1.48],[9.93,1.42],[8.92,1.39],[9.23,1.39],[7.71,1.36],[8.92,1.30],[10.45,1.30],[8.32,1.26],[9.75,1.26],[10.32,1.23],[8.23,1.20],[10.45,1.20],[8.97,1.16],[9.97,1.16],[8.19,1.13],[9.66,1.10],[9.49,1.07],
  [12.70,6.82],[13.53,6.73],[10.14,6.73],[11.67,6.70],[12.23,6.70],[11.29,6.56],[11.37,6.53],[7.28,3.58],[7.41,2.78],[7.28,3.06],[7.37,1.72],[7.35,1.21],[8.05,1.02],[8.28,0.97],[9.10,0.96],[9.95,1.01],[8.87,0.84],[8.96,0.75],[9.92,0.84],[9.23,0.66],[9.44,0.69],[9.97,0.40],[10.61,0.43],[7.79,0.23],[9.04,0.14]];
var areaIceDark = [[9.65,6.28],[9.65,5.69],[7.88,4.40],[8.71,4.28],[9.91,4.41],[7.01,3.92],[7.23,3.90],[8.28,3.90],[7.58,3.79],[8.98,3.67],[7.18,3.55],[7.01,3.48],[7.75,3.44],[8.09,3.44],[7.27,3.23],[7.45,3.26],[10.14,3.18],[8.49,3.15],[8.72,3.14],[9.31,3.09],[7.31,3.06],[7.94,3.06],[7.62,3.0],[7.54,2.91],[7.79,2.86],[7.89,2.86],[9.71,2.91],[8.45,3.03],[8.47,3.06],[8.64,3.0],[6.84,2.71],[7.05,2.64],[7.50,2.76],[7.86,2.70],[7.64,2.61],[8.28,2.54],[8.72,2.54],[9.15,2.54],[7.45,2.42],[7.24,2.34],[8.58,2.36],[9.31,2.45],[9.50,2.29],[6.90,2.21],[7.20,2.07],[7.37,2.09],[6.37,1.97],[7.01,1.97],[7.16,1.97],[8.02,1.97],[8.49,2.0],[7.88,1.87],[7.44,1.83],[7.58,1.65],[7.58,1.45],[8.02,1.55],[8.71,1.52],[9.06,1.45],[5.72,1.36],[6.58,1.25],[7.71,1.25],[8.41,1.27],[8.54,1.17],[7.14,1.13],[7.83,1.01],[10.57,0.97],[8.36,0.66]];
var areaIceZeroGrey = [8.38, 8.47, 8.55, 8.64, 8.72, 8.8, 9.12, 9.27, 9.45, 9.53, 9.62, 9.7, 9.79, 9.87, 9.96, 10.04, 10.13, 10.21, 10.3, 10.38, 10.47, 10.55, 10.64, 10.72, 10.81, 10.89, 10.98, 11.06, 11.15, 11.23, 11.32, 11.4, 11.49, 11.62, 11.81, 12.02, 12.23];
var areaIceZeroDark = [4.75, 5.08, 5.17, 5.25, 5.34, 5.68, 5.77, 5.85, 6.0, 6.08, 6.17, 6.25, 6.34, 6.42, 6.51, 6.59, 6.68, 6.76, 6.85, 6.93, 7.02, 7.1, 7.19, 7.27, 7.36, 7.44, 7.53, 7.61, 7.7, 7.78, 7.87, 7.95, 8.04, 8.09, 8.3, 8.89, 8.97, 9.06, 9.19, 9.36];
var areaIceSolid = [[4.76, 2.277], [11.28, 2.708]];
var areaIceDashed = [[6.82, 2.186], [14.79, 6.091]];

// ---- layout ----
var width = 3017;
var height = 4476;
var font = '"Liberation Sans", Arial, Helvetica, sans-serif';
var greyCol = '#cccccc';
var darkCol = '#333333';
var pt = 10; // point square size

var yDomain = [-0.355, 7.35];
var rowZero = [1295.7, 2752, 4203]; // pixel of y = 0 per row
var yUnit = 155;
var cols = [{left: 195, right: 1450}, {left: 1685, right: 2940}];
var titleX = [875, 2168];

var panels = [
  {row: 0, col: 0, domain: [-5.9, 119.6], ticks: ageTicksNo, fmt: d3.format('d'),
    grey: ageNoGrey, dark: ageNoDark, zGrey: ageNoZeroGrey, zDark: ageNoZeroDark, solid: ageNoSolid, dashed: ageNoDashed},
  {row: 0, col: 1, domain: [-6.0, 120.2], ticks: ageTicksIce, fmt: d3.format('d'),
    grey: ageIceGrey, dark: ageIceDark, zGrey: ageIceZeroGrey, zDark: ageIceZeroDark, solid: ageIceSolid, dashed: ageIceDashed},
  {row: 1, col: 0, domain: [0.693, 12.47], ticks: distTicksNo, fmt: d3.format('.1f'),
    grey: distNoGrey, dark: distNoDark, zGrey: distNoZeroGrey, zDark: distNoZeroDark, solid: distNoSolid, dashed: distNoDashed},
  {row: 1, col: 1, domain: [2.577, 12.49], ticks: distTicksIce, fmt: d3.format('.1f'),
    grey: distIceGrey, dark: distIceDark, zGrey: distIceZeroGrey, zDark: distIceZeroDark, solid: distIceSolid, dashed: distIceDashed},
  {row: 2, col: 0, domain: [1.281, 12.06], ticks: areaTicksNo, fmt: d3.format('d'),
    grey: areaNoGrey, dark: areaNoDark, zGrey: areaNoZeroGrey, zDark: areaNoZeroDark, solid: areaNoSolid, dashed: areaNoDashed},
  {row: 2, col: 1, domain: [4.249, 15.22], ticks: areaTicksIce, fmt: d3.format('.1f'),
    grey: areaIceGrey, dark: areaIceDark, zGrey: areaIceZeroGrey, zDark: areaIceZeroDark, solid: areaIceSolid, dashed: areaIceDashed}
];

// the whole figure is fitted into the visible window
var svg = d3.select('body').append('svg')
  .attr('viewBox', '0 0 ' + width + ' ' + height)
  .attr('preserveAspectRatio', 'none')
  .style('width', '100vw')
  .style('height', '100vh');

svg.append('rect').attr('width', width).attr('height', height).attr('fill', '#fff');

// left column is cut at its right edge (the 12.5 label)
svg.append('defs').append('clipPath').attr('id', 'leftClip')
  .append('rect').attr('x', 0).attr('y', 0).attr('width', 1490).attr('height', height);

// column titles
colTitles.forEach(function(t, i) {
  svg.append('text')
    .attr('x', titleX[i])
    .attr('y', 102)
    .attr('text-anchor', 'middle')
    .style('font-family', font)
    .style('font-size', '78px')
    .style('font-weight', 'bold')
    .attr('fill', '#000')
    .text(t);
});

function drawPanel(p) {
  var c = cols[p.col];
  var y0 = rowZero[p.row];
  var top = y0 - yDomain[1] * yUnit;
  var bottom = y0 - yDomain[0] * yUnit;

  var x = d3.scaleLinear().domain(p.domain).range([c.left, c.right]);
  var y = d3.scaleLinear().domain(yDomain).range([bottom, top]);

  var g = svg.append('g');
  if (p.col === 0) {
    g.attr('clip-path', 'url(#leftClip)');
  }

  function squares(data, fx, fy, colour) {
    g.append('g').selectAll('rect')
      .data(data)
      .enter()
      .append('rect')
      .attr('x', function(d) { return x(fx(d)) - pt / 2; })
      .attr('y', function(d) { return y(fy(d)) - pt / 2; })
      .attr('width', pt)
      .attr('height', pt)
      .attr('fill', colour);
  }

  squares(p.grey, function(d) { return d[0]; }, function(d) { return d[1]; }, greyCol);
  squares(p.zGrey, function(d) { return d; }, function() { return 0; }, greyCol);
  squares(p.dark, function(d) { return d[0]; }, function(d) { return d[1]; }, darkCol);
  squares(p.zDark, function(d) { return d; }, function() { return 0; }, darkCol);

  var line = d3.line()
    .x(function(d) { return x(d[0]); })
    .y(function(d) { return y(d[1]); });

  g.append('path')
    .attr('d', line(p.solid))
    .attr('fill', 'none')
    .attr('stroke', '#000')
    .attr('stroke-width', 10);

  g.append('path')
    .attr('d', line(p.dashed))
    .attr('fill', 'none')
    .attr('stroke', '#000')
    .attr('stroke-width', 10)
    .attr('stroke-dasharray', '20,20');

  // axes
  var xAxis = d3.axisBottom(x)
    .tickValues(p.ticks)
    .tickFormat(p.fmt)
    .tickSize(17)
    .tickSizeOuter(0)
    .tickPadding(26);

  var yAxis = d3.axisLeft(y)
    .tickValues(yTicks)
    .tickFormat(d3.format('d'))
    .tickSize(17)
    .tickSizeOuter(0)
    .tickPadding(16);

  var gx = g.append('g')
    .attr('transform', 'translate(0,' + bottom + ')')
    .call(xAxis);

  var gy = g.append('g')
    .attr('transform', 'translate(' + c.left + ',0)')
    .call(yAxis);

  [gx, gy].forEach(function(ax) {
    ax.select('.domain')
      .attr('stroke', '#000')
      .attr('stroke-width', 4.7)
      .attr('stroke-linecap', 'square');
    ax.selectAll('.tick line')
      .attr('stroke', '#333333')
      .attr('stroke-width', 5);
    ax.selectAll('.tick text')
      .attr('fill', '#4d4d4d')
      .style('font-family', font)
      .style('font-size', '62px');
  });
  gy.selectAll('.tick text').attr('dy', '0.41em');

  // axis titles
  g.append('text')
    .attr('x', (c.left + c.right) / 2)
    .attr('y', bottom + 176.5)
    .attr('text-anchor', 'middle')
    .style('font-family', font)
    .style('font-size', '72px')
    .attr('fill', '#000')
    .text(xTitles[p.row]);

  if (p.col === 0) {
    g.append('text')
      .attr('transform', 'translate(98,' + ((top + bottom) / 2) + ') rotate(-90)')
      .attr('text-anchor', 'middle')
      .style('font-family', font)
      .style('font-size', '72px')
      .attr('fill', '#000')
      .text(yTitle);
  }
}

panels.forEach(drawPanel);
</script>
</body>
</html>
